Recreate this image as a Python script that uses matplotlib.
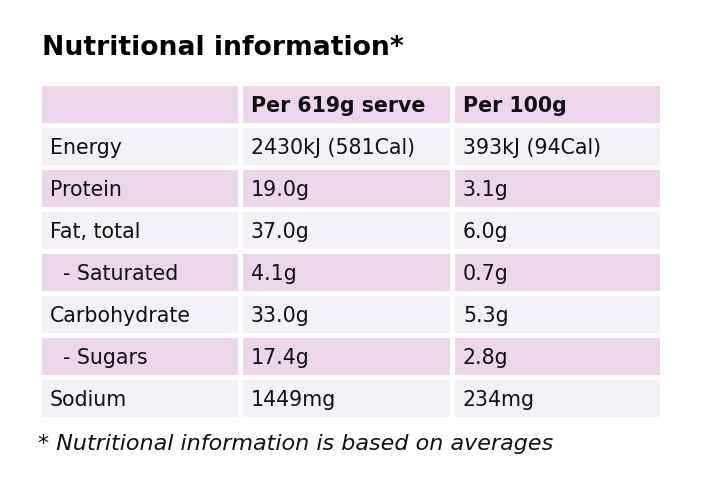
import matplotlib
matplotlib.use("Agg")
import matplotlib.pyplot as plt
from matplotlib.patches import Rectangle

plt.rcParams['font.family'] = ['DejaVu Sans']

title = "Nutritional information*"
footnote = "* Nutritional information is based on averages"
headers = ["", "Per 619g serve", "Per 100g"]
nutrients = ["Energy", "Protein", "Fat, total", "  - Saturated", "Carbohydrate", "  - Sugars", "Sodium"]
per_serve = ["2430kJ (581Cal)", "19.0g", "37.0g", "4.1g", "33.0g", "17.4g", "1449mg"]
per_100g = ["393kJ (94Cal)", "3.1g", "6.0g", "0.7g", "5.3g", "2.8g", "234mg"]

purple = "#edd5ea"
light = "#f5f2f7"

fig = plt.figure(figsize=(7.03, 5.04), dpi=100)
ax = fig.add_axes([0, 0, 1, 1])
ax.set_xlim(0, 703)
ax.set_ylim(504, 0)
ax.axis("off")

# layout (pixels)
col_x = [42, 243, 455]
col_w = [196, 207, 205]
top = 86
pitch = 42
cell_h = 37
pad = 8

rows = [headers] + [[n, a, b] for n, a, b in zip(nutrients, per_serve, per_100g)]
for r, row in enumerate(rows):
    y = top + r * pitch
    color = purple if r % 2 == 0 else light
    for c, txt in enumerate(row):
        ax.add_patch(Rectangle((col_x[c], y), col_w[c], cell_h, facecolor=color, edgecolor="none"))
        ax.text(col_x[c] + pad, y + cell_h / 2 + 1, txt, fontsize=14.8, va="center", ha="left",
                color="#111111", fontweight="bold" if r == 0 else "normal")

ax.text(42, 48, title, fontsize=19.2, fontweight="bold", va="center", ha="left", color="#000000")
ax.text(38, 444, footnote, fontsize=16, style="italic", va="center", ha="left", color="#111111")

fig.savefig("out.png", dpi=100)
